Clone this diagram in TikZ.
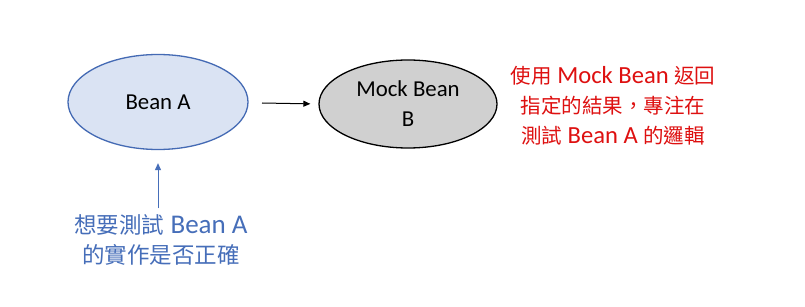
\documentclass[tikz,border=0pt]{standalone}
\usepackage{fontspec}
\setmainfont{Carlito}[Scale=1.2]
\newfontfamily\cjk{Noto Sans CJK TC}
\usetikzlibrary{shapes.geometric,arrows.meta}
\definecolor{beanfill}{RGB}{218,227,243}
\definecolor{beanedge}{RGB}{68,106,180}
\definecolor{mockfill}{RGB}{208,208,208}
\definecolor{notered}{RGB}{222,16,16}
\definecolor{noteblue}{RGB}{70,110,185}
\begin{document}
\begin{tikzpicture}[x=1pt,y=-1pt,
  bean/.style={ellipse,draw=beanedge,line width=1.3pt,fill=beanfill,
    minimum width=180pt,minimum height=95pt,inner sep=0pt,
    font=\fontsize{19}{30}\selectfont,align=center},
  mock/.style={ellipse,draw=black,line width=1.3pt,fill=mockfill,
    minimum width=178pt,minimum height=88pt,inner sep=0pt,
    font=\fontsize{19}{30}\selectfont,align=center},
  link/.style={-{Triangle[length=7pt,width=6pt]},line width=1pt},
  note/.style={align=center,inner sep=0pt}
]
\fill[white] (0,0) rectangle (805,307);
\path[use as bounding box] (0,0) rectangle (805,307);

\node[bean] (a) at (158,102) {Bean A};
\node[mock] (b) at (408,104) {Mock Bean\\B};

\coordinate (arrowstart) at (262,103);
\draw[link,shorten >=8pt] (arrowstart) -- (b.west);

\node[note,text=notered,font=\fontsize{20.5}{30}\selectfont] (red) at (613,106)
  {{\cjk 使用} Mock Bean {\cjk 返回}\\{\cjk 指定的結果，專注在}\\{\cjk 測試} Bean A {\cjk 的邏輯}};

\node[note,text=noteblue,font=\fontsize{22.5}{30}\selectfont] (blue) at (161,240)
  {{\cjk 想要測試} Bean A\\{\cjk 的實作是否正確}};

\coordinate (bluetop) at (158,208);
\draw[link,draw=noteblue,fill=noteblue,shorten >=13pt] (bluetop) -- (a.south);
\end{tikzpicture}
\end{document}
